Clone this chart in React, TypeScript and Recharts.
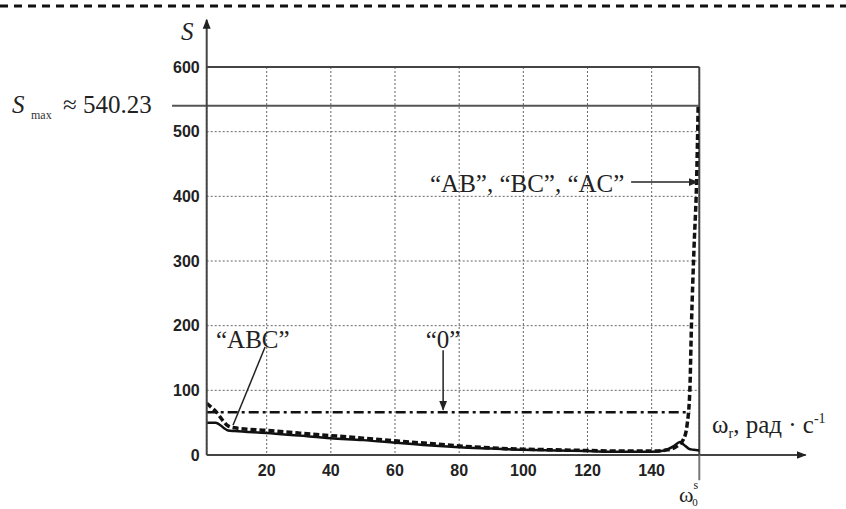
import { LineChart, Line, XAxis, YAxis, CartesianGrid, ReferenceLine } from 'recharts';

// axis setup
const xTicks = [20, 40, 60, 80, 100, 120, 140];
const yTicks = [0, 100, 200, 300, 400, 500, 600];
const xMin = 1.3;
const xMax = 154.85;

// "ABC" curve (solid)
const omegaABC = [1.3, 4, 8, 10, 20, 30, 40, 50, 60, 70, 80, 90, 100, 110, 120, 130, 140, 144, 147, 148.8, 150, 151.5, 153, 154.85];
const sABC = [50, 50, 38, 37, 34, 30, 26, 23, 19, 15, 12, 10, 8, 7, 6, 5, 5, 7, 14, 20, 16, 10, 8, 7];

// "AB", "BC", "AC" curve (thick dashed)
const omegaPair = [1.3, 4, 8, 10, 20, 30, 40, 50, 60, 70, 80, 90, 100, 110, 120, 130, 140, 145, 148, 150, 151, 151.9, 152.4, 153.2, 154, 154.5];
const sPair = [80, 68, 45, 42, 38, 34, 30, 26, 22, 18, 14, 11, 9, 8, 7, 6, 6, 8, 14, 25, 45, 100, 200, 320, 422, 540.23];

// "0" curve (dash-dot)
const omegaZero = [1.3, 152];
const sZero = [66, 66];

const sMax = 540.23;

const toPoints = (w: number[], s: number[]) => w.map((x, i) => ({ w: x, s: s[i] }));

const tickStyle = { fontSize: 16, fontWeight: 'bold', fill: '#222', fontFamily: '"Liberation Sans", Arial, sans-serif' };
const serif = '"Liberation Serif", "Times New Roman", serif';

export default function App() {
    return (
        <div style={{ position: 'absolute', left: 0, top: 0, width: 846, height: 509, background: '#fff' }}>
            <LineChart
                width={846}
                height={509}
                margin={{ top: 67, right: 146.7, bottom: 24, left: 0 }}
                style={{ position: 'absolute', left: 0, top: 0 }}
            >
                <defs>
                    <marker id="arrowHead" viewBox="0 0 10 10" refX="9" refY="5" markerWidth="10" markerHeight="10" markerUnits="userSpaceOnUse" orient="auto">
                        <path d="M0,1 L10,5 L0,9 z" fill="#222" />
                    </marker>
                </defs>
                <CartesianGrid stroke="#666" strokeDasharray="2 2" strokeWidth={1} />
                <XAxis
                    type="number"
                    dataKey="w"
                    domain={[xMin, xMax]}
                    ticks={xTicks}
                    allowDataOverflow
                    height={30}
                    tickLine={false}
                    tickSize={6}
                    tickMargin={4}
                    tick={tickStyle}
                    axisLine={{ stroke: '#444', strokeWidth: 2 }}
                />
                <YAxis
                    type="number"
                    domain={[0, 600]}
                    ticks={yTicks}
                    allowDataOverflow
                    width={206.7}
                    tickLine={false}
                    tickSize={5}
                    tickMargin={2}
                    tick={tickStyle}
                    axisLine={{ stroke: '#444', strokeWidth: 2 }}
                />
                <ReferenceLine y={600} stroke="#444" strokeWidth={2} />
                <ReferenceLine x={xMax} stroke="#444" strokeWidth={2} />

                <Line data={toPoints(omegaZero, sZero)} dataKey="s" type="linear" stroke="#111" strokeWidth={2.5} strokeDasharray="10 4 3 4" dot={false} isAnimationActive={false} />
                <Line data={toPoints(omegaABC, sABC)} dataKey="s" type="monotone" stroke="#111" strokeWidth={2.5} dot={false} isAnimationActive={false} />
                <Line data={toPoints(omegaPair, sPair)} dataKey="s" type="monotone" stroke="#111" strokeWidth={3.5} strokeDasharray="6 3" dot={false} isAnimationActive={false} />

                {/* S max level */}
                <ReferenceLine segment={[{ x: -9.5, y: sMax }, { x: xMax, y: sMax }]} ifOverflow="visible" stroke="#555" strokeWidth={2} />
                {/* axis arrows */}
                <ReferenceLine segment={[{ x: xMin, y: 600 }, { x: xMin, y: 673 }]} ifOverflow="visible" stroke="#444" strokeWidth={2} markerEnd="url(#arrowHead)" />
                <ReferenceLine segment={[{ x: xMax, y: 0 }, { x: 188, y: 0 }]} ifOverflow="visible" stroke="#444" strokeWidth={2} markerEnd="url(#arrowHead)" />
                <ReferenceLine segment={[{ x: xMax, y: 0 }, { x: xMax, y: -39 }]} ifOverflow="visible" stroke="#777" strokeWidth={2} />
                {/* annotation pointers */}
                <ReferenceLine segment={[{ x: 133.6, y: 422 }, { x: 154.3, y: 422 }]} ifOverflow="visible" stroke="#222" strokeWidth={1.5} markerEnd="url(#arrowHead)" />
                <ReferenceLine segment={[{ x: 75, y: 162 }, { x: 75, y: 70 }]} ifOverflow="visible" stroke="#222" strokeWidth={1.5} markerEnd="url(#arrowHead)" />
                <ReferenceLine segment={[{ x: 19.5, y: 167 }, { x: 9.5, y: 46 }]} ifOverflow="visible" stroke="#222" strokeWidth={1.5} />
            </LineChart>

            <svg width={846} height={509} style={{ position: 'absolute', left: 0, top: 0, pointerEvents: 'none' }}>
                <line x1={0} y1={6} x2={846} y2={6} stroke="#111" strokeWidth={3} strokeDasharray="8 6" />
                <text x={181} y={40} fontFamily={serif} fontStyle="italic" fontSize={25} fill="#222">S</text>
                <text x={12} y={113} fontFamily={serif} fontStyle="italic" fontSize={25} fill="#222">S</text>
                <text x={31} y={119} fontFamily={serif} fontSize={12} fill="#333">max</text>
                <text x={63} y={113} fontFamily={serif} fontSize={25} fill="#222">≈ 540.23</text>
                <text x={430} y={192} fontFamily={serif} fontSize={25} fill="#222">“AB”, “BC”, “AC”</text>
                <text x={216} y={348} fontFamily={serif} fontSize={25} fill="#222">“ABC”</text>
                <text x={443} y={348} textAnchor="middle" fontFamily={serif} fontSize={25} fill="#222">“0”</text>
                <text x={712} y={433} fontFamily={serif} fontSize={25} fill="#222">
                    ω<tspan fontSize={14} dy={5}>r</tspan>
                    <tspan dy={-5}>, рад · с</tspan>
                    <tspan fontSize={14} dy={-10}>-1</tspan>
                </text>
                <text x={679} y={502} fontFamily={serif} fontSize={22} fill="#222">
                    ω<tspan fontSize={12} dy={-13}>s</tspan>
                    <tspan fontSize={11} dx={-6} dy={17}>0</tspan>
                </text>
            </svg>
        </div>
    );
}
